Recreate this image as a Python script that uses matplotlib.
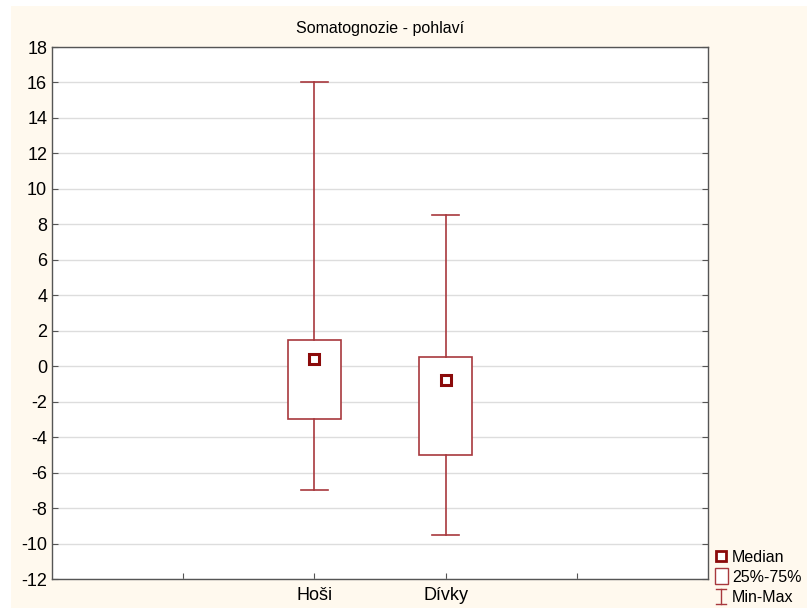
import matplotlib
matplotlib.use("Agg")
import matplotlib.pyplot as plt
from matplotlib.patches import Rectangle
from matplotlib.lines import Line2D

plt.rcParams['font.family'] = ['Liberation Sans', 'DejaVu Sans']

categories = ["Hoši", "Dívky"]
positions = [2, 3]
medians = [0.4, -0.8]
q1 = [-3.0, -5.0]
q3 = [1.5, 0.5]
mins = [-7.0, -9.5]
maxs = [16.0, 8.5]
yticks = list(range(-12, 19, 2))

box_col = '#A8383D'
med_col = '#8B0A0A'
bg = '#FFF9EE'

fig = plt.figure(figsize=(8.07, 6.08), dpi=100)
fig.patch.set_facecolor('white')
fig.add_artist(Rectangle((11 / 807, 0), 1, 1 - 6 / 608, transform=fig.transFigure,
                         facecolor=bg, edgecolor='none', zorder=-10))

ax = fig.add_axes([52 / 807, 1 - 579 / 608, (708 - 52) / 807, (579 - 47) / 608])
ax.set_facecolor('white')

stats = []
for i in range(len(categories)):
    stats.append(dict(med=medians[i], q1=q1[i], q3=q3[i],
                      whislo=mins[i], whishi=maxs[i], fliers=[], label=categories[i]))
ax.bxp(stats, positions=positions, widths=0.4, capwidths=0.2, showfliers=False,
       patch_artist=True,
       boxprops=dict(facecolor='white', edgecolor=box_col, linewidth=1.2),
       whiskerprops=dict(color=box_col, linewidth=1.2),
       capprops=dict(color=box_col, linewidth=1.2),
       medianprops=dict(linewidth=0, color='none'), zorder=3)
ax.plot(positions, medians, linestyle='none', marker='s', markersize=7,
        markerfacecolor='white', markeredgecolor=med_col, markeredgewidth=2.2, zorder=5)

ax.set_xlim(0, 5)
ax.set_ylim(-12, 18)
ax.set_yticks(yticks)
ax.set_yticklabels([str(t) for t in yticks])
ax.set_xticks([1, 2, 3, 4])
ax.set_xticklabels(["", categories[0], categories[1], ""])
ax.tick_params(axis='both', direction='in', length=4, width=0.8, color='#555555',
               labelsize=13, top=False, right=True)
ax.tick_params(axis='x', pad=6)
ax.yaxis.grid(True, color='#DDDDDD', linewidth=1)
ax.set_axisbelow(True)
for s in ax.spines.values():
    s.set_color('#555555')
    s.set_linewidth(1.0)

ax.set_title("Somatognozie - pohlaví", fontsize=11.5, pad=10)

# legend (manual, in figure pixel coordinates)
def fx(px):
    return px / 807

def fy(py):
    return 1 - py / 608

fig.add_artist(Line2D([fx(721)], [fy(556)], marker='s', markersize=6.5, markerfacecolor='white',
                      markeredgecolor=med_col, markeredgewidth=2, transform=fig.transFigure))
fig.add_artist(Rectangle((fx(715), fy(584)), fx(728) - fx(715), fy(568) - fy(584),
                         transform=fig.transFigure, facecolor='white', edgecolor=box_col, linewidth=1))
fig.add_artist(Line2D([fx(721), fx(721)], [fy(589), fy(604)], color=box_col, linewidth=1,
                      transform=fig.transFigure))
fig.add_artist(Line2D([fx(716), fx(726)], [fy(589), fy(589)], color=box_col, linewidth=1,
                      transform=fig.transFigure))
fig.add_artist(Line2D([fx(716), fx(726)], [fy(604), fy(604)], color=box_col, linewidth=1,
                      transform=fig.transFigure))
for txt, py in [("Median", 557), ("25%-75%", 577), ("Min-Max", 597)]:
    fig.text(fx(732), fy(py), txt, fontsize=11.5, va='center', ha='left')

fig.savefig("out.png", dpi=100, facecolor=fig.get_facecolor())
